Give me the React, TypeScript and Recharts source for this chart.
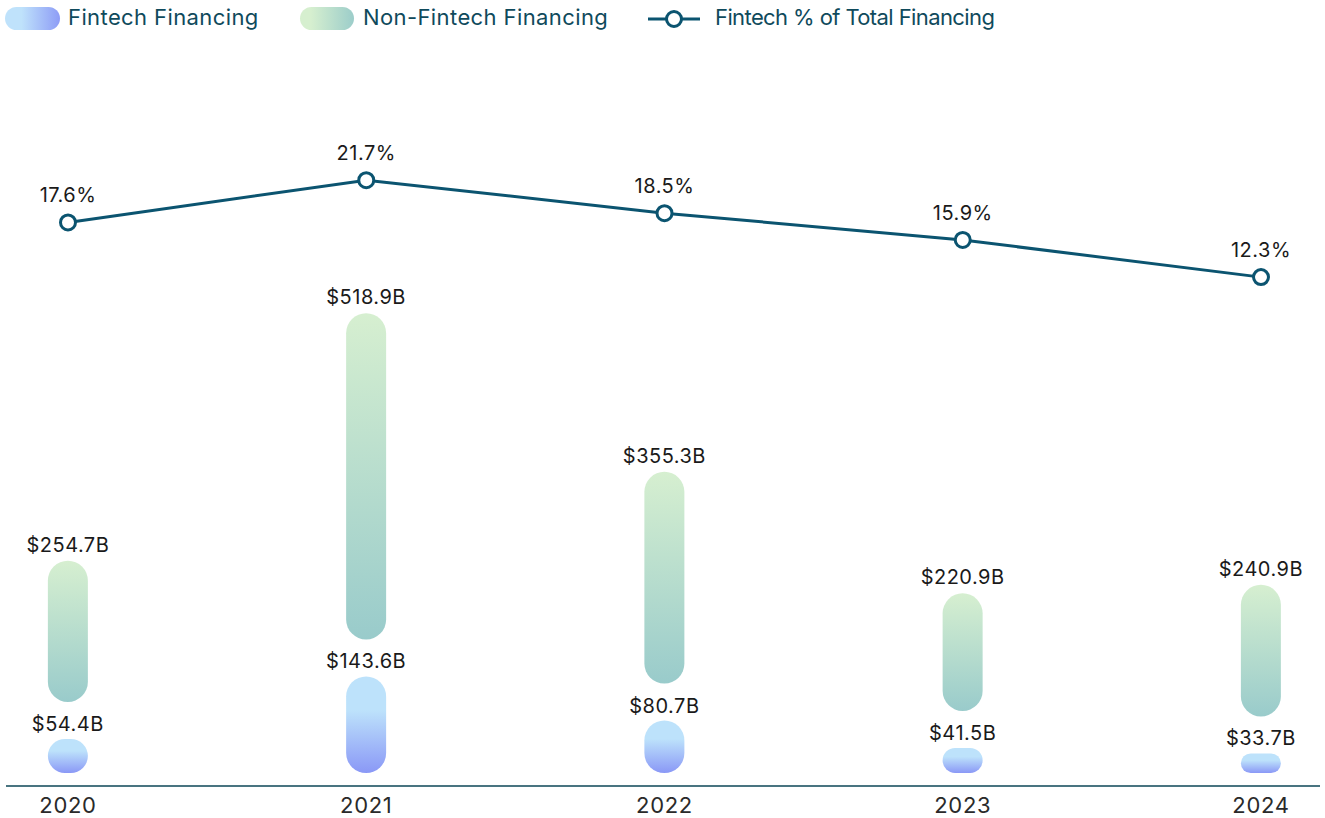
import { ComposedChart, Bar, Line, XAxis, YAxis, LabelList } from 'recharts';

const years = [2020, 2021, 2022, 2023, 2024];
const fintech = [54.4, 143.6, 80.7, 41.5, 33.7];
const nonFintech = [254.7, 518.9, 355.3, 220.9, 240.9];
const fintechPct = [17.6, 21.7, 18.5, 15.9, 12.3];

const data = years.map((year, i) => ({
    year,
    fintech: fintech[i],
    nonFintech: nonFintech[i],
    pct: fintechPct[i],
}));

const LINE_COLOR = '#0b5470';
const FONT = 'Inter, "Noto Sans", sans-serif';

// rounded pill, trimmed at the bottom to leave room for the label below
const pill = (trim: number) => (props: any) => {
    const { x, y, width, height, fill } = props;
    const h = Math.max(0, height - trim);
    const r = Math.min(width / 2, h / 2);
    return <rect x={x} y={y} width={width} height={h} rx={r} ry={r} fill={fill} />;
};

const moneyLabel = (dy: number) => (props: any) => {
    const { x, y, width, value } = props;
    return (
        <text x={x + width / 2} y={y - dy} textAnchor="middle" fontSize={20} letterSpacing={0.5} fill="#1a1a1a" fontFamily={FONT}>
            {`$${Number(value).toFixed(1)}B`}
        </text>
    );
};

const pctLabel = (props: any) => {
    const { x, y, value } = props;
    return (
        <text x={x} y={y - 20} textAnchor="middle" fontSize={20} letterSpacing={0.5} fill="#1a1a1a" fontFamily={FONT}>
            {`${Number(value).toFixed(1)}%`}
        </text>
    );
};

function LegendBar() {
    const txt = { fontSize: 22, letterSpacing: 0.4, color: '#0f4a5c', fontFamily: FONT, position: 'absolute' as const, top: 4, whiteSpace: 'nowrap' as const };
    return (
        <>
            <div style={{ position: 'absolute', left: 5, top: 7, width: 55, height: 23, borderRadius: 12, background: 'linear-gradient(to right, #bfe2fb 30%, #8d9cf6)' }} />
            <div style={{ ...txt, left: 68 }}>Fintech Financing</div>
            <div style={{ position: 'absolute', left: 300, top: 7, width: 54, height: 23, borderRadius: 12, background: 'linear-gradient(to right, #d6efcf 20%, #9ccdca)' }} />
            <div style={{ ...txt, left: 363 }}>Non-Fintech Financing</div>
            <svg style={{ position: 'absolute', left: 646, top: 6 }} width={56} height={26}>
                <line x1={2} y1={13} x2={54} y2={13} stroke={LINE_COLOR} strokeWidth={3} />
                <circle cx={28} cy={13} r={7.5} fill="#fff" stroke={LINE_COLOR} strokeWidth={3} />
            </svg>
            <div style={{ ...txt, left: 715, letterSpacing: -0.6 }}>Fintech % of Total Financing</div>
        </>
    );
}

export default function App() {
    return (
        <div style={{ position: 'absolute', left: 0, top: 0, width: 1325, height: 818, background: '#fff' }}>
            <LegendBar />
            <ComposedChart width={1325} height={818} data={data} margin={{ top: 77, right: 5, left: 6, bottom: 0 }}>
                <defs>
                    <linearGradient id="gFin" x1="0" y1="0" x2="0" y2="1">
                        <stop offset="0%" stopColor="#bde2fb" />
                        <stop offset="35%" stopColor="#bde2fb" />
                        <stop offset="100%" stopColor="#8a98f6" />
                    </linearGradient>
                    <linearGradient id="gNon" x1="0" y1="0" x2="0" y2="1">
                        <stop offset="0%" stopColor="#d6efd0" />
                        <stop offset="100%" stopColor="#99cbcb" />
                    </linearGradient>
                </defs>
                <XAxis
                    dataKey="year"
                    type="number"
                    domain={[2020, 2024]}
                    ticks={years}
                    padding={{ left: 62, right: 59 }}
                    height={32}
                    tickLine={false}
                    tickMargin={5}
                    axisLine={{ stroke: '#0d4656', strokeWidth: 1.5 }}
                    tick={{ fontSize: 22, letterSpacing: 0.7, fill: '#2a2a2a', fontFamily: FONT }}
                />
                <YAxis yAxisId="bar" hide domain={[0, 1000]} padding={{ top: 0, bottom: 9 }} />
                <YAxis yAxisId="pct" hide orientation="right" domain={[0, 31.7]} padding={{ top: 0, bottom: 382 }} />
                <Bar yAxisId="bar" dataKey="fintech" stackId="a" barSize={40} fill="url(#gFin)" shape={pill(4)} isAnimationActive={false}>
                    <LabelList dataKey="fintech" content={moneyLabel(8)} />
                </Bar>
                <Bar yAxisId="bar" dataKey="nonFintech" stackId="a" barSize={40} fill="url(#gNon)" shape={pill(37)} isAnimationActive={false}>
                    <LabelList dataKey="nonFintech" content={moneyLabel(9)} />
                </Bar>
                <Line
                    yAxisId="pct"
                    dataKey="pct"
                    type="linear"
                    stroke={LINE_COLOR}
                    strokeWidth={3}
                    dot={{ r: 7.5, fill: '#fff', stroke: LINE_COLOR, strokeWidth: 3 }}
                    activeDot={false}
                    isAnimationActive={false}
                >
                    <LabelList dataKey="pct" content={pctLabel} />
                </Line>
            </ComposedChart>
        </div>
    );
}
